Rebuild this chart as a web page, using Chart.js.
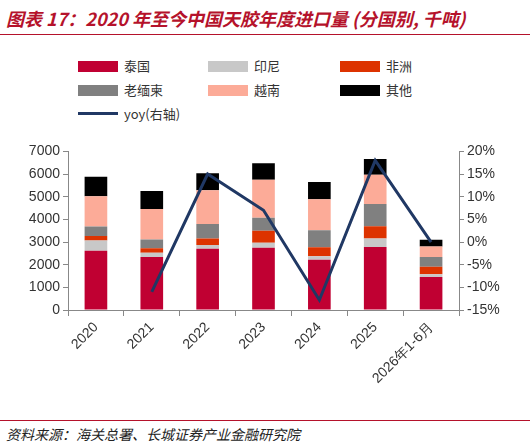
<!DOCTYPE html>
<html lang="zh">
<head>
<meta charset="UTF-8">
<title>天胶进口量</title>
<script src="https://cdn.jsdelivr.net/npm/chart.js"></script>
<style>
    body { margin: 0; width: 530px; height: 448px; background: #fff; font-family: "Noto Sans CJK SC", sans-serif; position: relative; overflow: hidden; }
    .title { position: absolute; left: 6px; top: 5px; color: #b5122b; font-size: 18px; font-style: italic; font-weight: bold; }
    .rule { position: absolute; left: 0; width: 530px; height: 1px; background: #b5122b; }
    .legend { position: absolute; left: 78px; top: 56px; font-size: 13px; color: #333; }
    .item { position: absolute; white-space: nowrap; }
    .sw { display: inline-block; width: 40px; height: 11px; vertical-align: -1px; margin-right: 6px; }
    .ln { display: inline-block; width: 40px; height: 3px; background: #203864; vertical-align: 4px; margin-right: 6px; }
    .source { position: absolute; left: 6px; top: 424px; font-size: 14px; font-style: italic; color: #222; }
    .wrap { position: absolute; left: 0; top: 140px; width: 530px; height: 260px; }
</style>
</head>
<body>
<div class="title">图表 17：2020 年至今中国天胶年度进口量 (分国别, 千吨)</div>
<div class="rule" style="top:34px"></div>
<div class="legend" id="legend"></div>
<div class="wrap"><canvas id="chart"></canvas></div>
<div class="rule" style="top:420px"></div>
<div class="source">资料来源：海关总署、长城证券产业金融研究院</div>
<script>
    const categories = ['2020', '2021', '2022', '2023', '2024', '2025', '2026年1-6月'];
    const thailand = [2610, 2340, 2700, 2750, 2220, 2780, 1460];
    const indonesia = [460, 190, 170, 220, 150, 380, 120];
    const africa = [200, 200, 290, 530, 400, 540, 330];
    const laosMyanmar = [420, 380, 640, 570, 750, 980, 430];
    const vietnam = [1330, 1350, 1490, 1680, 1370, 1290, 460];
    const others = [860, 790, 750, 730, 760, 700, 300];
    const yoy = [null, -11, 15, 7, -12.8, 18, 0];
    const leftTicks = [0, 1000, 2000, 3000, 4000, 5000, 6000, 7000];
    const rightTicks = [-15, -10, -5, 0, 5, 10, 15, 20];

    const barSeries = [
        { label: '泰国', data: thailand, color: '#c00032' },
        { label: '印尼', data: indonesia, color: '#c8c8c8' },
        { label: '非洲', data: africa, color: '#dd3300' },
        { label: '老缅柬', data: laosMyanmar, color: '#808080' },
        { label: '越南', data: vietnam, color: '#fcab98' },
        { label: '其他', data: others, color: '#000000' }
    ];

    // HTML legend, 3 columns
    const legend = document.getElementById('legend');
    const cols = [0, 130, 262];
    barSeries.forEach((s, i) => {
        const d = document.createElement('div');
        d.className = 'item';
        d.style.left = cols[i % 3] + 'px';
        d.style.top = (Math.floor(i / 3) * 24) + 'px';
        d.innerHTML = '<span class="sw" style="background:' + s.color + '"></span>' + s.label;
        legend.appendChild(d);
    });
    const yl = document.createElement('div');
    yl.className = 'item';
    yl.style.left = '0px';
    yl.style.top = '48px';
    yl.innerHTML = '<span class="ln"></span>yoy(右轴)';
    legend.appendChild(yl);

    const datasets = [{
        type: 'line',
        label: 'yoy(右轴)',
        data: yoy,
        yAxisID: 'y1',
        borderColor: '#203864',
        borderWidth: 3,
        pointRadius: 0,
        tension: 0,
        order: 0
    }];
    barSeries.forEach(s => datasets.push({
        type: 'bar',
        label: s.label,
        data: s.data,
        backgroundColor: s.color,
        yAxisID: 'y',
        stack: 's',
        barPercentage: 0.78,
        categoryPercentage: 0.52,
        order: 1
    }));

    const tickFont = { family: 'Liberation Sans, sans-serif', size: 14 };
    new Chart(document.getElementById('chart'), {
        data: { labels: categories, datasets: datasets },
        options: {
            responsive: true,
            maintainAspectRatio: false,
            animation: false,
            layout: { padding: { left: 8, right: 9, top: 7, bottom: 0 } },
            plugins: { legend: { display: false }, tooltip: { enabled: false } },
            scales: {
                x: {
                    stacked: true,
                    grid: { display: true, drawOnChartArea: false, offset: true, color: '#888', tickLength: 6 },
                    border: { color: '#888' },
                    ticks: { color: '#333', font: tickFont, maxRotation: 45, minRotation: 45 },
                    afterFit: a => { a.height = 90; }
                },
                y: {
                    stacked: true,
                    min: 0, max: 7000,
                    afterBuildTicks: a => { a.ticks = leftTicks.map(v => ({ value: v })); },
                    grid: { display: true, drawOnChartArea: false, color: '#888', tickLength: 5 },
                    border: { color: '#888' },
                    ticks: { color: '#333', font: tickFont, callback: v => String(v) },
                    afterFit: a => { a.width = 60; }
                },
                y1: {
                    position: 'right',
                    min: -15, max: 20,
                    afterBuildTicks: a => { a.ticks = rightTicks.map(v => ({ value: v })); },
                    grid: { display: true, drawOnChartArea: false, color: '#888', tickLength: 5 },
                    border: { color: '#888' },
                    ticks: { color: '#333', font: tickFont, callback: v => v + '%' },
                    afterFit: a => { a.width = 62; }
                }
            }
        }
    });
</script>
</body>
</html>
